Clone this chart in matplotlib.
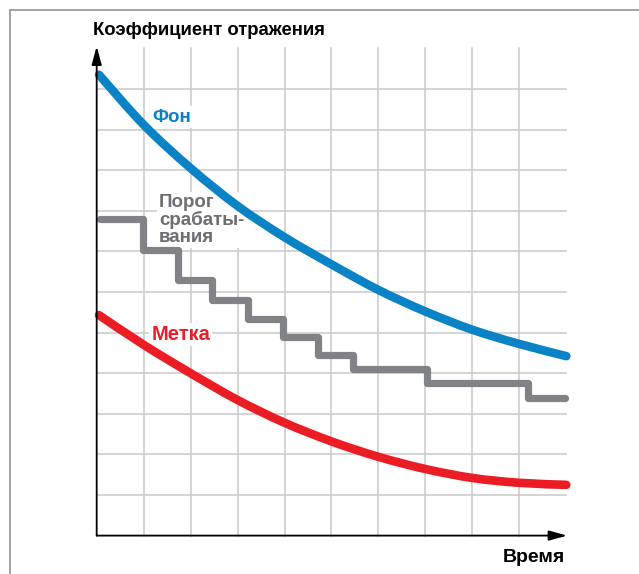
import numpy as np
import matplotlib.pyplot as plt
from matplotlib.lines import Line2D
from matplotlib.path import Path
from matplotlib.patches import PathPatch

plt.rcParams['font.family'] = ['Liberation Sans', 'DejaVu Sans']

# --- data (grid units: x = time cells, y = reflectance cells) ---
x_grid = [0.05, 1, 2, 3, 4, 5, 6, 7, 8, 9, 10]
background = [11.35, 10.12, 9.05, 8.12, 7.35, 6.68, 6.05, 5.52, 5.07, 4.72, 4.42]
tag = [5.43, 4.70, 4.00, 3.34, 2.78, 2.32, 1.94, 1.64, 1.42, 1.30, 1.25]

# threshold: level held until each switch point
step_x = [0.08, 0.99, 1.74, 2.45, 3.23, 3.96, 4.72, 5.45, 7.03, 9.19, 9.97]
step_level = [7.81, 7.03, 6.30, 5.80, 5.33, 4.88, 4.45, 4.10, 3.75, 3.40]

x_cells = range(1, 10)
y_cells = range(1, 12)

BLUE = '#0a82c6'
RED = '#ec1c24'
GRAY = '#808285'
GRID = '#c9c9c9'


def smooth_path(xs, ys):
    """Catmull-Rom through the points, expressed as cubic Bezier segments."""
    pts = np.column_stack([xs, ys])
    verts = [pts[0]]
    codes = [Path.MOVETO]
    for i in range(len(pts) - 1):
        p0 = pts[i - 1] if i > 0 else pts[i]
        p1, p2 = pts[i], pts[i + 1]
        p3 = pts[i + 2] if i + 2 < len(pts) else pts[i + 1]
        verts += [p1 + (p2 - p0) / 6, p2 - (p3 - p1) / 6, p2]
        codes += [Path.CURVE4] * 3
    return Path(verts, codes)


fig = plt.figure(figsize=(6.39, 5.74), dpi=100)
ax = fig.add_axes([0.1513, 0.0669, 0.7349, 0.8488])
ax.set_xlim(0, 10)
ax.set_ylim(0, 12)
ax.axis('off')

# outer frame (left and top edges only)
fig.add_artist(Line2D([9.5 / 639, 9.5 / 639], [0, 1 - 9.5 / 574], color='#9b9b9b', lw=1.3))
fig.add_artist(Line2D([9.5 / 639, 1], [1 - 9.5 / 574, 1 - 9.5 / 574], color='#9b9b9b', lw=1.3))

# grid
for xv in x_cells:
    ax.plot([xv, xv], [0, 12], color=GRID, lw=1.1, zorder=1, clip_on=False)
for yv in y_cells:
    ax.plot([0, 10], [yv, yv], color=GRID, lw=1.1, zorder=1, clip_on=False)

# axes with arrows
for tip in [(0, 12.05), (10.02, 0)]:
    ax.annotate('', xy=tip, xytext=(0, 0),
                arrowprops=dict(arrowstyle='-|>,head_length=1.1,head_width=0.3',
                                color='black', lw=1.3, shrinkA=0, shrinkB=0),
                annotation_clip=False, zorder=6)

# curves
for ys, col in [(background, BLUE), (tag, RED)]:
    ax.add_patch(PathPatch(smooth_path(x_grid, ys), facecolor='none', edgecolor=col,
                           lw=6.2, capstyle='round', joinstyle='round',
                           zorder=5, clip_on=False))
ax.step(step_x, step_level + [step_level[-1]], where='post', color=GRAY, lw=5.2,
        solid_capstyle='round', solid_joinstyle='round', zorder=4, clip_on=False)

# labels
box = dict(facecolor='white', edgecolor='none', pad=1.5)
ax.text(-0.08, 12.45, 'Коэффициент отражения', ha='left', va='center',
        fontsize=13.3, fontweight='bold', color='black')
ax.text(9.97, -0.55, 'Время', ha='right', va='center',
        fontsize=14, fontweight='bold', color='black')
ax.text(1.19, 10.31, 'Фон', ha='left', va='center', fontsize=13.5,
        fontweight='bold', color=BLUE, bbox=box, zorder=3)
ax.text(1.33, 8.42, 'Порог\nсрабаты-\nвания', ha='left', va='top', fontsize=13.5,
        fontweight='bold', color='#6d6e71', linespacing=1.0, bbox=box, zorder=3)
ax.text(1.16, 4.96, 'Метка', ha='left', va='center', fontsize=14.5,
        fontweight='bold', color=RED, bbox=box, zorder=3)

fig.savefig('out.png', dpi=100)
